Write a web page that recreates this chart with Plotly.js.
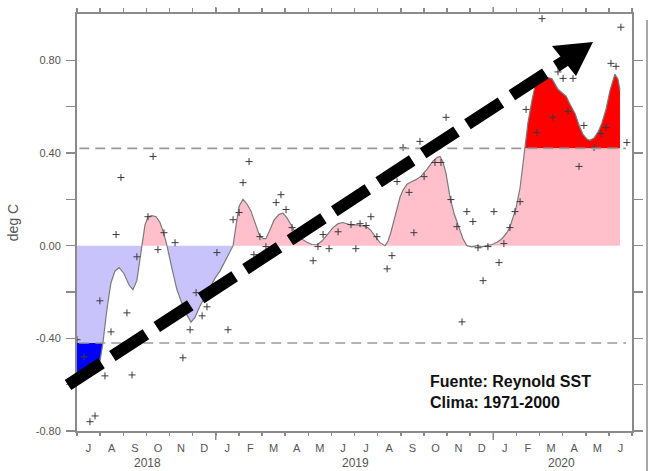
<!DOCTYPE html>
<html>
<head>
<meta charset="utf-8">
<script src="https://cdn.plot.ly/plotly-3.0.1.min.js"></script>
<style>html,body{margin:0;padding:0;background:#fff;}#chart{width:648px;height:471px;}</style>
</head>
<body>
<div id="chart"></div>
<script>
// ---- data (months since July 2017, value in deg C) ----
const monthLabels = ['J','A','S','O','N','D','J','F','M','A','M','J','J','A','S','O','N','D','J','F','M','A','M','J'];
const yearLabels = ['2018','2019','2020'];
const ghostYearLabels = ['2017','2018','2019'];
const thresholds = [-0.42, 0.42];

const curveMonth = [0.00,0.65,0.99,1.12,1.30,1.47,1.64,1.82,2.03,2.25,2.42,2.59,2.72,2.81,2.94,3.07,3.24,3.42,3.59,3.76,3.89,4.11,4.32,4.54,4.76,4.93,5.10,5.32,5.54,5.75,5.97,6.18,6.40,6.62,6.75,6.88,7.01,7.18,7.35,7.52,7.70,7.87,8.04,8.17,8.35,8.52,8.74,8.91,9.08,9.25,9.43,9.60,9.77,9.95,10.16,10.38,10.59,10.81,11.07,11.29,11.50,11.81,12.11,12.37,12.54,12.71,12.89,13.10,13.32,13.45,13.58,13.71,13.84,13.97,14.10,14.27,14.44,14.66,14.88,15.14,15.39,15.57,15.70,15.83,15.96,16.13,16.30,16.43,16.56,16.69,16.86,17.08,17.30,17.51,17.73,17.95,18.16,18.38,18.59,18.72,18.85,18.98,19.16,19.29,19.37,19.50,19.68,19.81,19.94,20.15,20.37,20.54,20.67,20.80,20.97,21.15,21.32,21.54,21.71,21.88,22.05,22.18,22.36,22.53,22.70,22.88,23.05,23.18,23.26,23.39,23.48];
const curveValue = [-0.58,-0.55,-0.50,-0.42,-0.27,-0.16,-0.11,-0.095,-0.12,-0.17,-0.19,-0.15,-0.06,0.0,0.09,0.125,0.13,0.125,0.10,0.05,0.0,-0.10,-0.19,-0.25,-0.30,-0.33,-0.31,-0.26,-0.22,-0.18,-0.14,-0.11,-0.07,-0.03,0.0,0.09,0.17,0.20,0.18,0.15,0.10,0.05,0.03,0.03,0.07,0.11,0.135,0.14,0.12,0.09,0.06,0.04,0.025,0.015,0.005,0.004,0.02,0.045,0.078,0.095,0.10,0.09,0.09,0.085,0.08,0.065,0.04,0.013,0.0,0.02,0.06,0.11,0.155,0.21,0.24,0.265,0.275,0.285,0.30,0.33,0.365,0.38,0.385,0.36,0.31,0.21,0.14,0.10,0.06,0.03,0.0,-0.005,0.0,-0.005,0.0,0.005,0.015,0.03,0.056,0.08,0.12,0.16,0.25,0.35,0.415,0.53,0.63,0.69,0.715,0.72,0.725,0.72,0.70,0.675,0.66,0.645,0.61,0.57,0.52,0.48,0.46,0.455,0.465,0.49,0.53,0.59,0.67,0.72,0.74,0.72,0.67];

const markerMonth = [0.00,0.30,0.56,0.78,0.99,1.21,1.47,1.69,1.90,2.16,2.38,2.59,3.07,3.29,3.50,3.76,4.24,4.58,4.89,5.15,5.41,5.62,6.05,6.53,6.75,7.01,7.18,7.44,7.65,7.91,8.17,8.61,8.82,9.04,9.30,10.21,10.42,10.64,10.90,11.29,11.85,12.06,12.24,12.50,12.71,12.97,13.41,13.62,13.84,14.10,14.36,14.57,14.83,15.01,15.48,15.74,15.96,16.17,16.43,16.65,16.86,17.12,17.34,17.56,17.77,18.03,18.25,18.46,18.72,18.94,19.16,19.42,19.89,20.11,20.58,20.80,21.02,21.23,21.45,21.71,21.92,22.36,22.66,22.88,23.09,23.31,23.52,23.78];
const markerValue = [-0.406,-0.48,-0.76,-0.735,-0.238,-0.562,-0.372,0.048,0.294,-0.29,-0.558,-0.048,0.125,0.385,-0.017,0.056,0.013,-0.484,-0.363,-0.203,-0.303,-0.264,-0.03,-0.363,0.112,0.143,0.272,0.363,-0.039,0.039,-0.004,0.186,0.22,0.156,0.078,-0.065,-0.004,0.048,-0.013,0.06,0.091,-0.013,0.095,0.087,0.125,0.039,-0.1,-0.043,0.277,0.424,0.23,0.056,0.45,0.298,0.359,0.359,0.554,0.199,0.082,-0.329,0.147,0.104,-0.009,-0.151,-0.004,0.147,-0.073,0.009,0.078,0.147,0.19,0.588,0.489,0.98,0.554,0.75,0.722,0.58,0.722,0.342,0.519,0.424,0.484,0.51,0.787,0.774,0.943,0.445];

// ---- derived series: insert level crossings ----
const levels = [thresholds[0], 0, thresholds[1]];
const dx = [], dy = [];
for (let i = 0; i < curveMonth.length; i++) {
  dx.push(curveMonth[i]); dy.push(curveValue[i]);
  if (i < curveMonth.length - 1) {
    const y0 = curveValue[i], y1 = curveValue[i+1];
    const ts = [];
    levels.forEach(L => { if ((y0 - L) * (y1 - L) < 0) ts.push([(L - y0) / (y1 - y0), L]); });
    ts.sort((a,b)=>a[0]-b[0]);
    ts.forEach(([t,L]) => { dx.push(curveMonth[i] + t*(curveMonth[i+1]-curveMonth[i])); dy.push(L); });
  }
}
const hiT = thresholds[1], loT = thresholds[0];
const posY = dy.map(v => Math.max(0, Math.min(hiT, v)));
const negY = dy.map(v => Math.min(0, Math.max(loT, v)));

function regions(test, level) {
  const polys = []; let run = null;
  for (let i = 0; i < dx.length; i++) {
    if (test(dy[i])) { if (!run) run = []; run.push(i); }
    else if (run) { polys.push(run); run = null; }
  }
  if (run) polys.push(run);
  return polys.filter(r => r.length > 1).map(r => {
    const xs = r.map(i => dx[i]), ys = r.map(i => dy[i]);
    return {x: xs.concat(xs.slice().reverse()), y: ys.concat(xs.map(() => level))};
  });
}

const LAV = '#c8c3fb', PINK = '#ffc0cb', RED = '#ff0000', BLUE = '#0000ff';
const traces = [];
traces.push({x: dx, y: negY, type:'scatter', mode:'lines', fill:'tozeroy', fillcolor: LAV, line:{width:0}, hoverinfo:'skip', showlegend:false});
traces.push({x: dx, y: posY, type:'scatter', mode:'lines', fill:'tozeroy', fillcolor: PINK, line:{width:0}, hoverinfo:'skip', showlegend:false});
regions(v => v >= hiT - 1e-9, hiT).forEach(p => traces.push({x:p.x, y:p.y, type:'scatter', mode:'lines', fill:'toself', fillcolor:RED, line:{width:0}, hoverinfo:'skip', showlegend:false}));
regions(v => v <= loT + 1e-9, loT).forEach(p => traces.push({x:p.x, y:p.y, type:'scatter', mode:'lines', fill:'toself', fillcolor:BLUE, line:{width:0}, hoverinfo:'skip', showlegend:false}));
traces.push({x: curveMonth, y: curveValue, type:'scatter', mode:'lines', line:{color:'#7a7a7a', width:1.2}, hoverinfo:'skip', showlegend:false});
traces.push({x: markerMonth, y: markerValue, type:'scatter', mode:'markers', marker:{symbol:'cross-thin', size:5, line:{width:1, color:'#3a3a3a'}}, hoverinfo:'skip', showlegend:false});
// dummy traces so overlay axes are drawn
traces.push({x:[null], y:[null], xaxis:'x2', yaxis:'y', type:'scatter', showlegend:false, hoverinfo:'skip'});
traces.push({x:[null], y:[null], xaxis:'x3', yaxis:'y', type:'scatter', showlegend:false, hoverinfo:'skip'});

const nM = monthLabels.length;
const mids = monthLabels.map((_, i) => i + 0.5);
const bounds = Array.from({length: nM + 1}, (_, i) => i);
const yTickVals = [-0.8,-0.6,-0.4,-0.2,0,0.2,0.4,0.6,0.8];
const yTickText = yTickVals.map(v => (Math.round(v*10) % 4 === 0) ? (v < 0 ? '-' : '') + Math.abs(v).toFixed(2) : '');

const AX = '#8a8a8a';
const FONT = 'Liberation Sans, Arial, sans-serif';
const L = 77, T = 14, W = 555, H = 417;
const px = x => (x - L) / W, py = y => (T + H - y) / H;

const shapes = [];
thresholds.forEach(t => shapes.push({type:'line', xref:'x', yref:'y', x0:0.1, x1:23.74, y0:t, y1:t, line:{color:'#9a9a9a', width:1.6, dash:'10px,6px'}, layer:'above'}));
[6, 18].forEach(m => {
  shapes.push({type:'line', xref:'x', yref:'paper', x0:m, x1:m, y0:0, y1:-9/H, line:{color:AX, width:1.5}});
  shapes.push({type:'line', xref:'x', yref:'paper', x0:m, x1:m, y0:1, y1:1+7/H, line:{color:AX, width:1.5}});
});
shapes.push({type:'line', xref:'paper', yref:'paper', x0:px(647), x1:px(647), y0:py(20), y1:py(475), line:{color:AX, width:1.5}});
// trend arrow
shapes.push({type:'line', xref:'paper', yref:'paper', x0:px(68), y0:py(385), x1:px(566), y1:py(60), line:{color:'#000', width:12, dash:'40px,13px'}, layer:'above'});
shapes.push({type:'path', xref:'paper', yref:'paper', path:`M ${px(593)} ${py(42)} L ${px(552)} ${py(46)} L ${px(576)} ${py(76)} Z`, fillcolor:'#000', line:{width:0}, layer:'above'});

const annotations = [];
const yearPos = [3.03, 12.06, 20.97];
const ghostPos = [3.72, 12.37, 21.32];
yearLabels.forEach((t, i) => annotations.push({text:t, xref:'x', yref:'paper', x:yearPos[i], y:py(463), showarrow:false, font:{family:FONT, size:12, color:'#555'}, xanchor:'center', yanchor:'middle'}));
ghostYearLabels.forEach((t, i) => annotations.push({text:t, xref:'x', yref:'paper', x:ghostPos[i], y:py(476), showarrow:false, font:{family:FONT, size:12, color:'#555'}, xanchor:'center', yanchor:'middle'}));
annotations.push({text:'<b>Fuente: Reynold SST<br>Clima: 1971-2000</b>', xref:'paper', yref:'paper', x:px(428), y:py(391.5), xanchor:'left', yanchor:'middle', align:'left', showarrow:false, font:{family:FONT, size:16, color:'#111'}});

const layout = {
  width: 648, height: 471,
  margin: {l: L, r: 648 - L - W, t: T, b: 471 - T - H, pad: 0},
  paper_bgcolor: '#fff', plot_bgcolor: '#fff',
  font: {family: FONT, color: '#555'},
  showlegend: false,
  xaxis: {range:[0, nM], tickmode:'array', tickvals: mids, ticktext: monthLabels, ticks:'', showgrid:false, zeroline:false,
          showline:true, linecolor:AX, linewidth:2, tickfont:{size:11, color:'#555'}, ticklabelstandoff:6, fixedrange:true},
  xaxis2: {overlaying:'x', anchor:'y', side:'bottom', range:[0, nM], tickmode:'array', tickvals: bounds, ticks:'outside', ticklen:4, tickwidth:1.5, tickcolor:AX,
           showticklabels:false, showgrid:false, zeroline:false, showline:false},
  xaxis3: {overlaying:'x', anchor:'y', side:'top', range:[0, nM], tickmode:'array', tickvals: bounds, ticks:'outside', ticklen:4, tickwidth:1.5, tickcolor:AX,
           showticklabels:false, showgrid:false, zeroline:false, showline:true, linecolor:AX, linewidth:2},
  yaxis: {range:[-0.8, 1.0], tickmode:'array', tickvals: yTickVals, ticktext: yTickText, ticks:'outside', ticklen:9, tickwidth:1.5, tickcolor:AX,
          mirror:'ticks', showline:true, linecolor:AX, linewidth:2, showgrid:false, zeroline:false,
          tickfont:{size:11, color:'#555'}, ticklabelstandoff:3,
          title:{text:'deg C', font:{size:14, color:'#555'}, standoff:14}, fixedrange:true},
  shapes: shapes,
  annotations: annotations
};
Plotly.newPlot('chart', traces, layout, {staticPlot:true, displayModeBar:false});
</script>
</body>
</html>
